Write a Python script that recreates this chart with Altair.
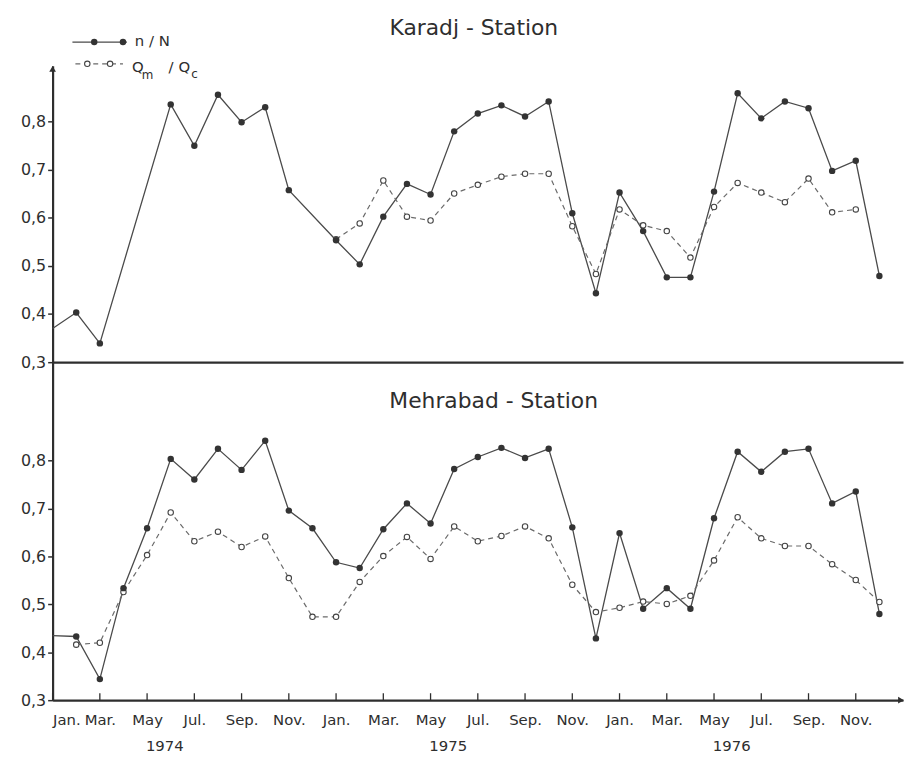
import altair as alt
import pandas as pd

# ---------------- data ----------------
months = list(range(36))  # Jan 1974 ... Dec 1976
month_labels = ["Jan.", "Mar.", "May", "Jul.", "Sep.", "Nov."]
years = ["1974", "1975", "1976"]
y_ticks = [0.3, 0.4, 0.5, 0.6, 0.7, 0.8]

karadj_nN = [0.37, 0.403, 0.339, None, None, 0.835, 0.749, 0.855, 0.798, 0.829, 0.657, None,
             0.553, 0.503, 0.602, 0.670, 0.648, 0.779, 0.816, 0.833, 0.810, 0.841, 0.609, 0.443,
             0.652, 0.572, 0.476, 0.476, 0.654, 0.858, 0.806, 0.841, 0.827, 0.697, 0.718, 0.479]
karadj_Q = [None, None, None, None, None, None, None, None, None, None, None, None,
            0.555, 0.588, 0.677, 0.602, 0.594, 0.650, 0.668, 0.685, 0.691, 0.691, 0.582, 0.483,
            0.617, 0.584, 0.572, 0.517, 0.622, 0.672, 0.652, 0.632, 0.681, 0.611, 0.617, None]
mehrabad_nN = [0.435, 0.433, 0.344, 0.534, 0.659, 0.804, 0.761, 0.825, 0.781, 0.842, 0.696, 0.659,
               0.588, 0.576, 0.657, 0.711, 0.669, 0.783, 0.808, 0.827, 0.806, 0.825, 0.661, 0.429,
               0.649, 0.491, 0.534, 0.491, 0.680, 0.819, 0.777, 0.819, 0.825, 0.711, 0.736, 0.480]
mehrabad_Q = [None, 0.416, 0.420, 0.526, 0.603, 0.692, 0.632, 0.652, 0.620, 0.642, 0.555, 0.474,
              0.474, 0.547, 0.601, 0.641, 0.595, 0.663, 0.632, 0.643, 0.663, 0.638, 0.541, 0.484,
              0.493, 0.506, 0.501, 0.518, 0.592, 0.682, 0.638, 0.622, 0.622, 0.584, 0.551, 0.505]

# ---------------- style ----------------
FONT = "DejaVu Sans"
INK = "#2e2e2e"
SOLID = "#4a4a4a"
DASH = "#6a6a6a"
W = 858
H_TOP = 299
H_BOT = 341


def frame(nN, Q):
    rows = []
    for m, v in zip(months, nN):
        rows.append({"month": m, "series": "n/N", "value": v})
    for m, v in zip(months, Q):
        rows.append({"month": m, "series": "Q", "value": v})
    return pd.DataFrame(rows)


label_expr_y = "replace(format(datum.value, '.1f'), '.', ',')"
month_arr = "[" + ",".join("'" + s + "'" for s in month_labels) + "]"
label_expr_x = month_arr + "[(datum.value / 2) % 6]"


def data_layers(df, ymax, x_axis):
    base = alt.Chart(df).transform_filter("isValid(datum.value)")
    x = alt.X("month:Q", scale=alt.Scale(domain=[0, 36], nice=False, zero=False), axis=x_axis)
    y = alt.Y("value:Q", scale=alt.Scale(domain=[0.3, ymax], nice=False, zero=False),
              axis=alt.Axis(values=y_ticks, labelExpr=label_expr_y, title=None, grid=False,
                            domainColor=INK, domainWidth=2.2, tickColor=INK, tickSize=5,
                            tickWidth=1.5, labelPadding=2, labelFont=FONT, labelFontSize=16,
                            labelColor=INK))
    solid = base.transform_filter("datum.series == 'n/N'").mark_line(
        color=SOLID, strokeWidth=1.3).encode(x=x, y=y)
    dashed = base.transform_filter("datum.series == 'Q'").mark_line(
        color=DASH, strokeWidth=1.2, strokeDash=[5, 4]).encode(x=x, y=y)
    open_pts = base.transform_filter("datum.series == 'Q'").mark_point(
        shape="circle", filled=True, fill="white", stroke="#444444", strokeWidth=1.1,
        size=30, opacity=1).encode(x=x, y=y)
    filled_pts = base.transform_filter("datum.series == 'n/N' && datum.month > 0").mark_circle(
        size=42, color="#333333", opacity=1).encode(x=x, y=y)
    return [solid, dashed, open_pts, filled_pts]


def text_layer(txt, x, y, size, align="center", baseline="middle"):
    return alt.Chart(pd.DataFrame({"t": [txt]})).mark_text(
        font=FONT, fontSize=size, color=INK, align=align, baseline=baseline
    ).encode(x=alt.value(x), y=alt.value(y), text="t:N")


# ---------------- top panel: Karadj ----------------
top_x_axis = alt.Axis(labels=False, ticks=False, title=None, grid=False,
                      domainColor=INK, domainWidth=2.2)
top_layers = data_layers(frame(karadj_nN, karadj_Q), 0.915, top_x_axis)

one = pd.DataFrame({"k": [0]})
legend_solid = alt.Chart(one).mark_rule(color=SOLID, strokeWidth=1.3).encode(
    x=alt.value(20), x2=alt.value(75), y=alt.value(-24))
legend_solid_pts = alt.Chart(pd.DataFrame({"px": [42, 71]})).mark_circle(
    size=42, color="#333333", opacity=1).encode(x=alt.X("px:Q", scale=None), y=alt.value(-24))
legend_dash = alt.Chart(one).mark_rule(color=DASH, strokeWidth=1.2, strokeDash=[5, 4]).encode(
    x=alt.value(23), x2=alt.value(71), y=alt.value(-2))
legend_open_pts = alt.Chart(pd.DataFrame({"px": [35, 58]})).mark_point(
    shape="circle", filled=True, fill="white", stroke="#444444", strokeWidth=1.1, size=30,
    opacity=1).encode(x=alt.X("px:Q", scale=None), y=alt.value(-2))

y_arrow = alt.Chart(one).mark_point(shape="triangle-up", filled=True, color=INK, size=45,
                                    opacity=1).encode(x=alt.value(0), y=alt.value(3))

top = alt.layer(
    *top_layers,
    legend_solid, legend_solid_pts, legend_dash, legend_open_pts,
    text_layer("n / N", 83, -25, 15, align="left"),
    text_layer("Q", 80, 1, 15, align="left"),
    text_layer("m", 90, 9, 12, align="left"),
    text_layer("/", 117, 1, 15, align="left"),
    text_layer("Q", 127, 1, 15, align="left"),
    text_layer("c", 140, 8, 12, align="left"),
    text_layer("Karadj - Station", 425, -38, 22),
    y_arrow,
).properties(width=W, height=H_TOP)

# ---------------- bottom panel: Mehrabad ----------------
bot_x_axis = alt.Axis(values=list(range(0, 36, 2)), labelExpr=label_expr_x, ticks=False,
                      title=None, grid=False, domainColor=INK, domainWidth=2.2,
                      labelPadding=13, labelFont=FONT, labelFontSize=15, labelColor=INK,
                      labelAngle=0)
bot_layers = data_layers(frame(mehrabad_nN, mehrabad_Q), 1.006, bot_x_axis)

tick_df = pd.DataFrame({"month": list(range(0, 36, 2))})
inner_ticks = alt.Chart(tick_df).mark_rule(color=INK, strokeWidth=1.3).encode(
    x=alt.X("month:Q", scale=alt.Scale(domain=[0, 36], nice=False, zero=False)),
    y=alt.value(H_BOT), y2=alt.value(H_BOT - 7))

year_df = pd.DataFrame({"year": years, "pos": [i * 12 + 4.75 for i in range(len(years))]})
year_text = alt.Chart(year_df).mark_text(font=FONT, fontSize=15, color=INK).encode(
    x=alt.X("pos:Q", scale=alt.Scale(domain=[0, 36], nice=False, zero=False)),
    y=alt.value(H_BOT + 46), text="year:N")

x_arrow = alt.Chart(one).mark_point(shape="triangle-right", filled=True, color=INK, size=45,
                                    opacity=1).encode(x=alt.value(W - 2), y=alt.value(H_BOT))

bottom = alt.layer(
    *bot_layers,
    inner_ticks,
    year_text,
    text_layer("Mehrabad - Station", 445, 39, 22),
    x_arrow,
).properties(width=W, height=H_BOT)

chart = alt.vconcat(top, bottom, spacing=0, bounds="flush").properties(
    padding={"left": 12, "top": 6, "right": 0, "bottom": 0}
).configure(background="white", view=alt.ViewConfig(stroke=None))

chart.save("out.html", embed_options={"renderer": "svg", "actions": False})
